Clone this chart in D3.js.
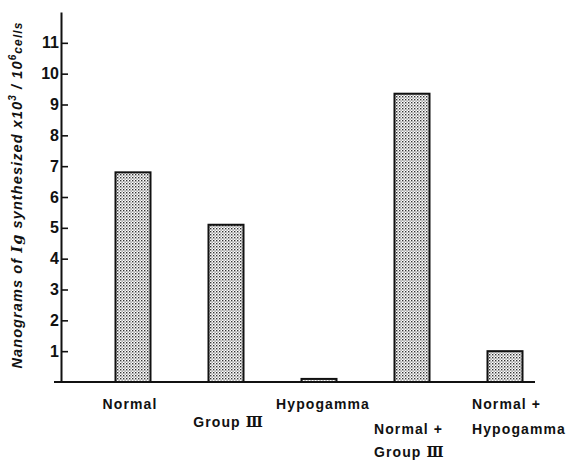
<!DOCTYPE html>
<html>
<head>
<meta charset="utf-8">
<script src="https://cdn.jsdelivr.net/npm/d3@7"></script>
<style>
  body { margin: 0; background: #fff; }
  svg { display: block; }
  .lbl { font-family: "Liberation Sans", Arial, sans-serif; font-weight: bold; font-size: 14px; letter-spacing: 1.1px; fill: #111; }
  .rn { font-family: "DejaVu Serif", serif; font-weight: bold; letter-spacing: 0; }
  .tick text { font-family: "Liberation Sans", Arial, sans-serif; font-weight: bold; font-size: 16px; fill: #111; }
</style>
</head>
<body>
<div id="chart"></div>
<script>
// groups, in plotting order
const groups = ["Normal", "Group III", "Hypogamma", "Normal + Group III", "Normal + Hypogamma"];
// ng Ig synthesized x10^3 / 10^6 cells
const values = [6.8, 5.1, 0.1, 9.35, 1.0];
// label lines under each bar
const labelLines = [["Normal"], ["Group Ⅲ"], ["Hypogamma"], ["Normal +", "Group Ⅲ"], ["Normal +", "Hypogamma"]];
const yTicks = [1, 2, 3, 4, 5, 6, 7, 8, 9, 10, 11];

// label placement: [anchor, dx from bar centre, first baseline, line gap]
const labelPos = [
  ["middle", -3, 409, 0],
  ["middle", 2, 427, 0],
  ["middle", 4, 409, 0],
  ["start", -38, 434, 23],
  ["start", -33, 409, 25]
];

const width = 569, height = 461;

const svg = d3.select("#chart").append("svg")
  .attr("width", width)
  .attr("height", height);

// stipple fill
const pat = svg.append("defs").append("pattern")
  .attr("id", "dots")
  .attr("patternUnits", "userSpaceOnUse")
  .attr("width", 3).attr("height", 3);
pat.append("rect").attr("width", 3).attr("height", 3).attr("fill", "#fff");
pat.append("rect").attr("x", 0).attr("y", 0).attr("width", 1.4).attr("height", 1.4).attr("fill", "#333");
pat.append("rect").attr("x", 1.5).attr("y", 1.5).attr("width", 1.2).attr("height", 1.2).attr("fill", "#666");

const x = d3.scalePoint()
  .domain(groups)
  .range([133, 505]);

const y = d3.scaleLinear()
  .domain([0, 12])
  .range([382, 12]);

const barW = 35;

// y axis, ticks pointing inward
const yAxis = d3.axisLeft(y)
  .tickValues(yTicks)
  .tickSizeInner(-7)
  .tickSizeOuter(0)
  .tickPadding(2)
  .tickFormat(d3.format("d"));

const gy = svg.append("g")
  .attr("transform", "translate(61,0)")
  .call(yAxis);
gy.select(".domain").attr("stroke", "#111").attr("stroke-width", 2);
gy.selectAll(".tick line").attr("stroke", "#111").attr("stroke-width", 1.6);

// baseline
svg.append("line")
  .attr("x1", 54).attr("x2", 535)
  .attr("y1", y(0)).attr("y2", y(0))
  .attr("stroke", "#111").attr("stroke-width", 2);

// bars
svg.selectAll("rect.bar")
  .data(values)
  .enter()
  .append("rect")
  .attr("class", "bar")
  .attr("x", function(d, i) { return x(groups[i]) - barW / 2; })
  .attr("y", function(d) { return y(d); })
  .attr("width", barW)
  .attr("height", function(d) { return y(0) - y(d); })
  .attr("fill", "url(#dots)")
  .attr("stroke", "#111")
  .attr("stroke-width", 2);

// category labels
labelLines.forEach(function(lines, i) {
  const p = labelPos[i];
  const lx = x(groups[i]) + p[1];
  lines.forEach(function(line, j) {
    const t = svg.append("text")
      .attr("class", "lbl")
      .attr("text-anchor", p[0])
      .attr("x", lx)
      .attr("y", p[2] + j * p[3]);
    const parts = line.split("Ⅲ");
    t.append("tspan").text(parts[0]);
    if (parts.length > 1) {
      t.append("tspan").attr("class", "rn").text("Ⅲ");
    }
  });
});

// y axis title
const yt = svg.append("text")
  .attr("transform", "translate(22,195) rotate(-90)")
  .attr("text-anchor", "middle")
  .style("font-family", "'Liberation Sans', Arial, sans-serif")
  .style("font-style", "italic")
  .style("font-weight", "bold")
  .style("font-size", "14.5px")
  .style("letter-spacing", "1.1px")
  .attr("fill", "#111");
yt.append("tspan").text("Nanograms of ");
yt.append("tspan").style("font-family", "'DejaVu Serif', serif").text("Ig");
yt.append("tspan").text(" synthesized  x10");
yt.append("tspan").attr("dy", -6).style("font-size", "10px").text("3");
yt.append("tspan").attr("dy", 6).text(" / 10");
yt.append("tspan").attr("dy", -6).style("font-size", "10px").text("6");
yt.append("tspan").attr("dy", 6).style("font-size", "12px").text("cells");
</script>
</body>
</html>
